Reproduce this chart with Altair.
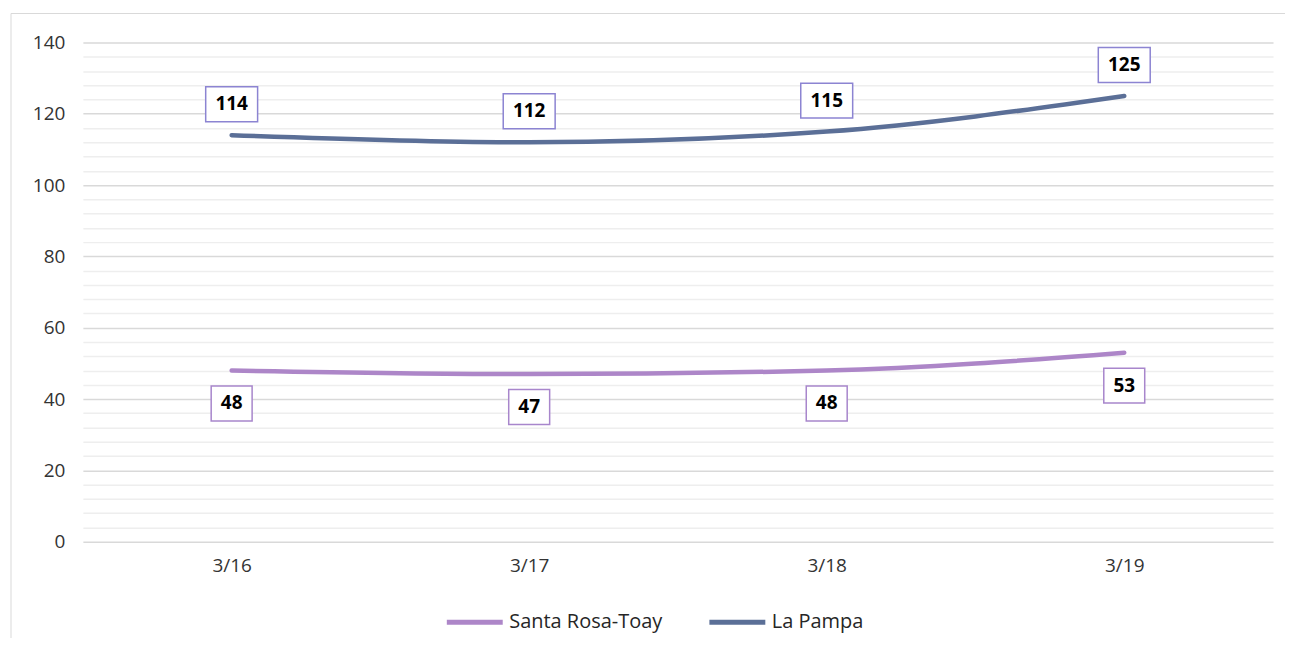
import altair as alt
import pandas as pd

fechas = ["3/16", "3/17", "3/18", "3/19"]
santa_rosa = [48, 47, 48, 53]
la_pampa = [114, 112, 115, 125]
series = ["Santa Rosa-Toay", "La Pampa"]
colores = ["#AD86C8", "#5B6F97"]
y_ticks = list(range(0, 141, 4))

rows = []
for f, v in zip(fechas, santa_rosa):
    rows.append({"serie": series[0], "fecha": f, "valor": v})
for f, v in zip(fechas, la_pampa):
    rows.append({"serie": series[1], "fecha": f, "valor": v})
df = pd.DataFrame(rows)

FONT = "Open Sans"

x_enc = alt.X("fecha:N", sort=fechas, title=None,
              axis=alt.Axis(labelAngle=0, ticks=False, domain=False, grid=False,
                            labelFontSize=19, labelColor="#333333", labelFont=FONT,
                            labelPadding=15))
y_enc = alt.Y("valor:Q", title=None,
              scale=alt.Scale(domain=[0, 140], nice=False),
              axis=alt.Axis(values=y_ticks, tickCount=60, ticks=False, domain=False,
                            labelOverlap=False,
                            labelExpr="datum.value % 20 == 0 ? datum.label : ''",
                            labelFontSize=19, labelColor="#333333", labelFont=FONT,
                            labelPadding=18,
                            gridColor={"condition": {"test": "datum.value % 20 === 0", "value": "#d9d9d9"},
                                       "value": "#eeeeee"},
                            gridWidth=1.5))

base = alt.Chart(df)

lines = base.mark_line(strokeWidth=4.5, strokeCap="round", interpolate="monotone").encode(
    x=x_enc, y=y_enc,
    color=alt.Color("serie:N", scale=alt.Scale(domain=series, range=colores),
                    legend=alt.Legend(title=None, orient="none", direction="horizontal",
                                      legendX=362, legendY=550, symbolType="stroke",
                                      symbolSize=3136, symbolStrokeWidth=5,
                                      labelFontSize=20, labelFont=FONT, labelColor="#262626",
                                      labelOffset=4, columnPadding=36, padding=0)),
)

box3 = "M-1,-0.673L1,-0.673L1,0.673L-1,0.673Z"
box2 = "M-1,-0.854L1,-0.854L1,0.854L-1,0.854Z"

lp = base.transform_filter(alt.datum.serie == series[1])
sr = base.transform_filter(alt.datum.serie == series[0])

lp_box = lp.mark_point(shape=box3, size=2704, filled=True, fill="white", fillOpacity=1,
                       stroke="#8C84D2", strokeWidth=1.5, opacity=1, yOffset=-31).encode(
    x=alt.X("fecha:N", sort=fechas), y="valor:Q")
lp_txt = lp.mark_text(fontSize=19, fontWeight="bold", font=FONT, color="black",
                      yOffset=-31, baseline="middle").encode(
    x=alt.X("fecha:N", sort=fechas), y="valor:Q", text="valor:Q")

sr_box = sr.mark_point(shape=box2, size=1681, filled=True, fill="white", fillOpacity=1,
                       stroke="#A886CC", strokeWidth=1.5, opacity=1, yOffset=33).encode(
    x=alt.X("fecha:N", sort=fechas), y="valor:Q")
sr_txt = sr.mark_text(fontSize=19, fontWeight="bold", font=FONT, color="black",
                      yOffset=33, baseline="middle").encode(
    x=alt.X("fecha:N", sort=fechas), y="valor:Q", text="valor:Q")

one = alt.Data(values=[{"a": 1}])
border_top = alt.Chart(one).mark_rule(color="#d9d9d9", strokeWidth=1).encode(
    x=alt.value(-72), x2=alt.value(1220), y=alt.value(-29))
border_left = alt.Chart(one).mark_rule(color="#d9d9d9", strokeWidth=1).encode(
    x=alt.value(-72), y=alt.value(-29), y2=alt.value(620))

chart = alt.layer(border_top, border_left, lines, lp_box, lp_txt, sr_box, sr_txt).properties(
    width=1192, height=500,
    padding={"left": 75, "top": 34, "right": 12, "bottom": 96},
    autosize="none",
).configure(font=FONT, view=alt.ViewConfig(stroke=None))

chart.save("out.html", embed_options={"renderer": "svg", "actions": False})
